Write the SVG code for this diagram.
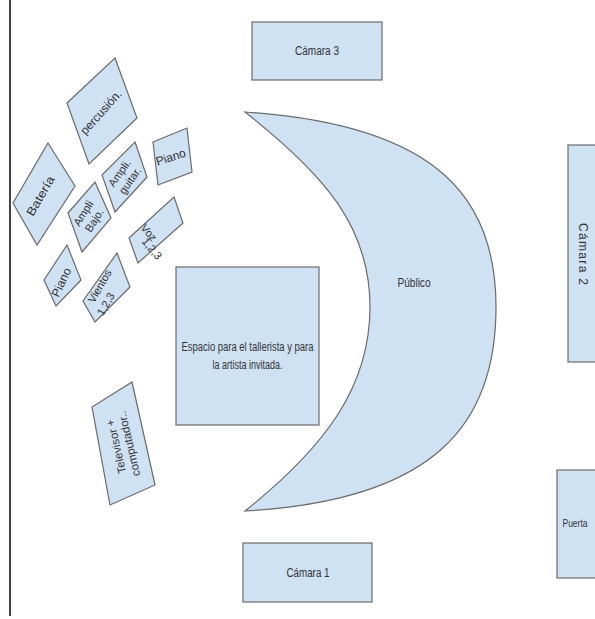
<svg xmlns="http://www.w3.org/2000/svg" width="595" height="619" viewBox="0 0 595 619">
<style>
.s{fill:#cfe2f3;stroke:#6b6b6b;stroke-width:1.2}
.t{font-family:"Liberation Sans",Arial,sans-serif;font-size:12px;fill:#333;text-anchor:middle}
</style>
<rect width="595" height="619" fill="#fff"/>
<line x1="10" y1="0" x2="10" y2="616" stroke="#444" stroke-width="2"/>
<g id="connectors"/>
<g id="camara3"><rect class="s" x="252" y="22" width="130" height="58"/><text class="t" x="317" y="55" textLength="44" lengthAdjust="spacingAndGlyphs">Cámara 3</text></g>
<g id="publico"><path class="s" d="M245,112 C440,125 496,200 496,307 C496,420 440,500 245,511 C325,447 370,387 370,307 C370,227 325,175 245,112 Z"/><text class="t" x="414" y="287" textLength="33" lengthAdjust="spacingAndGlyphs">Público</text></g>
<g id="espacio"><rect class="s" x="176" y="267" width="143" height="158"/><text class="t" x="247.5" y="351" textLength="132" lengthAdjust="spacingAndGlyphs">Espacio para el tallerista y para</text><text class="t" x="247.5" y="369" textLength="70" lengthAdjust="spacingAndGlyphs">la artista invitada.</text></g>
<g id="camara1"><rect class="s" x="243" y="543" width="129" height="59"/><text class="t" x="308" y="577" textLength="43" lengthAdjust="spacingAndGlyphs">Cámara 1</text></g>
<g id="camara2"><rect class="s" x="568" y="145" width="30" height="217"/><text class="t" transform="translate(579,254) rotate(90)" textLength="62" lengthAdjust="spacing">Cámara 2</text></g>
<g id="puerta"><rect class="s" x="557" y="470" width="41" height="108"/><text class="t" x="575" y="527" textLength="25" lengthAdjust="spacingAndGlyphs" style="font-size:11px">Puerta</text></g>
<g id="bateria"><polygon class="s" points="48,143 75,186 37,245 13,203"/><text class="t" transform="translate(44,198) rotate(-60)" textLength="44" lengthAdjust="spacingAndGlyphs">Batería</text></g>
<g id="percusion"><polygon class="s" points="115,58 137,118 89,164 67,103"/><text class="t" transform="translate(104,115) rotate(-48)">percusión.</text></g>
<g id="ampli-guitar"><polygon class="s" points="135,142 147,177 115,212 102,175"/><text class="t" transform="translate(125,177) rotate(-55)" style="font-size:11px"><tspan x="0" y="-3">Ampli.</tspan><tspan x="0" y="10">guitar.</tspan></text></g>
<g id="piano1"><polygon class="s" points="153,142 187,128 192,172 158,185"/><text class="t" transform="translate(172,161) rotate(-18)">Piano</text></g>
<g id="ampli-bajo"><polygon class="s" points="95,182 111,218 82,252 68,213"/><text class="t" transform="translate(89,217) rotate(-58)" style="font-size:11px"><tspan x="0" y="-3">Ampli</tspan><tspan x="0" y="10">Bajo.</tspan></text></g>
<g id="voz"><polygon class="s" points="174,197 183,223 138,263 129,238"/><text class="t" transform="translate(146,235) rotate(50)" style="font-size:11px">Voz</text><text class="t" transform="translate(149,251) rotate(50)" style="font-size:11px">1,2,3</text></g>
<g id="piano2"><polygon class="s" points="67,245 81,280 56,306 44,280"/><text class="t" transform="translate(65,284) rotate(-65)">Piano</text></g>
<g id="vientos"><polygon class="s" points="117,253 130,287 95,322 83,301"/><text class="t" transform="translate(103,288) rotate(-60)" style="font-size:11px">Vientos</text><text class="t" transform="translate(109,306) rotate(-60)" style="font-size:11px">1,2,3</text></g>
<g id="televisor"><polygon class="s" points="132,382 155,485 110,505 92,407"/><text class="t" transform="translate(123,445) rotate(-103)" style="font-size:11.5px"><tspan x="0" y="-3">Televisor +</tspan><tspan x="0" y="10">computador..</tspan></text></g>
</svg>
